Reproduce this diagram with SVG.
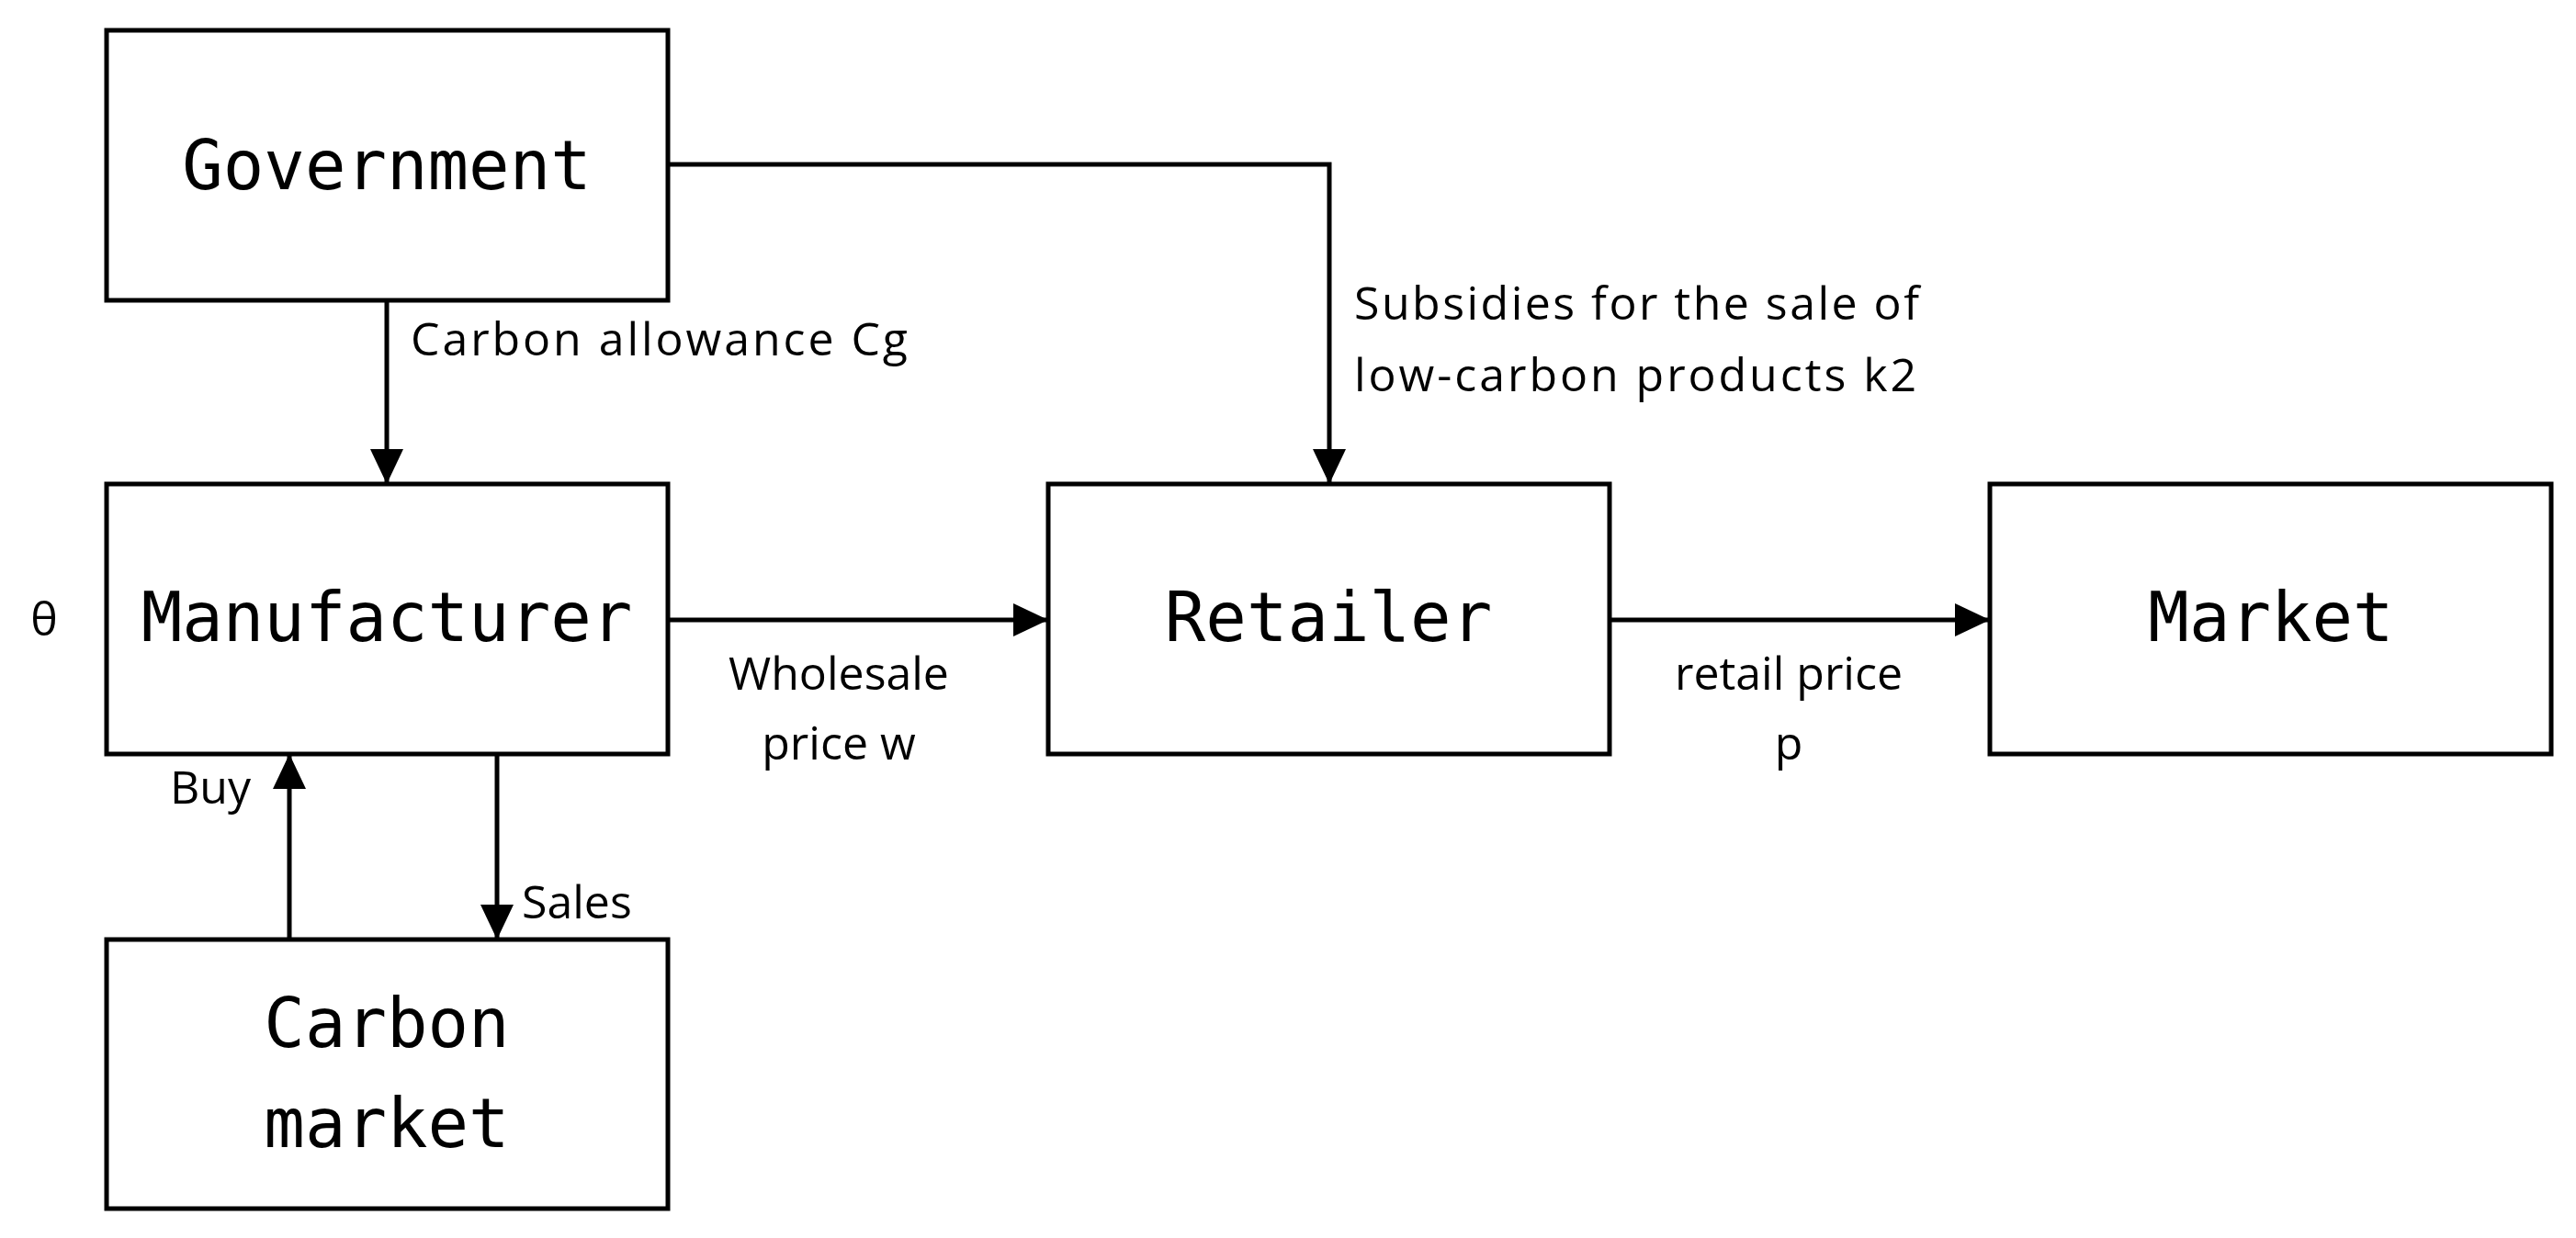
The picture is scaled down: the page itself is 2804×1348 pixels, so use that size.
<svg xmlns="http://www.w3.org/2000/svg" width="2804" height="1348" viewBox="0 0 2804 1348">
<style>
.box{fill:#fff;stroke:#000;stroke-width:5}
.nt{font-family:"DejaVu Sans Mono","Liberation Mono",monospace;font-size:74px;text-anchor:middle;fill:#000}
.lb{font-family:"Open Sans","Liberation Sans",sans-serif;font-size:50px;fill:#000}
.ln{fill:none;stroke:#000;stroke-width:5}
</style>
<defs>
<marker id="ah" markerUnits="userSpaceOnUse" markerWidth="40" markerHeight="40" refX="38" refY="18" orient="auto">
<path d="M0,0 L38,18 L0,36 Z" fill="#000"/>
</marker>
</defs>
<rect width="2804" height="1348" fill="#fff"/>
<g id="government"><rect class="box" x="116" y="33" width="611" height="294"/><text class="nt" x="421" y="206">Government</text></g>
<g id="manufacturer"><rect class="box" x="116" y="527" width="611" height="294"/><text class="nt" x="421" y="698">Manufacturer</text></g>
<g id="carbon-market"><rect class="box" x="116" y="1023" width="611" height="293"/><text class="nt" x="421" y="1140">Carbon</text><text class="nt" x="421" y="1249">market</text></g>
<g id="retailer"><rect class="box" x="1141" y="527" width="611" height="294"/><text class="nt" x="1446" y="698">Retailer</text></g>
<g id="market"><rect class="box" x="2166" y="527" width="611" height="294"/><text class="nt" x="2472" y="698">Market</text></g>
<g id="connectors">
<path class="ln" d="M727,179 H1447 V527" marker-end="url(#ah)"/>
<path class="ln" d="M421,327 V527" marker-end="url(#ah)"/>
<path class="ln" d="M727,675 H1141" marker-end="url(#ah)"/>
<path class="ln" d="M1752,675 H2166" marker-end="url(#ah)"/>
<path class="ln" d="M315,1023 V821" marker-end="url(#ah)"/>
<path class="ln" d="M541,821 V1023" marker-end="url(#ah)"/>
</g>
<g id="labels">
<text class="lb" x="447" y="387" textLength="541">Carbon allowance Cg</text>
<text class="lb" x="1474" y="348" textLength="615">Subsidies for the sale of</text>
<text class="lb" x="1474" y="426" textLength="612">low-carbon products k2</text>
<text class="lb" x="913" y="751" text-anchor="middle">Wholesale</text>
<text class="lb" x="913" y="827" text-anchor="middle">price w</text>
<text class="lb" x="1947" y="751" text-anchor="middle">retail price</text>
<text class="lb" x="1947" y="827" text-anchor="middle">p</text>
<text class="lb" x="185" y="875">Buy</text>
<text class="lb" x="568" y="1000">Sales</text>
<text class="lb" x="48" y="692" text-anchor="middle">θ</text>
</g>
</svg>
